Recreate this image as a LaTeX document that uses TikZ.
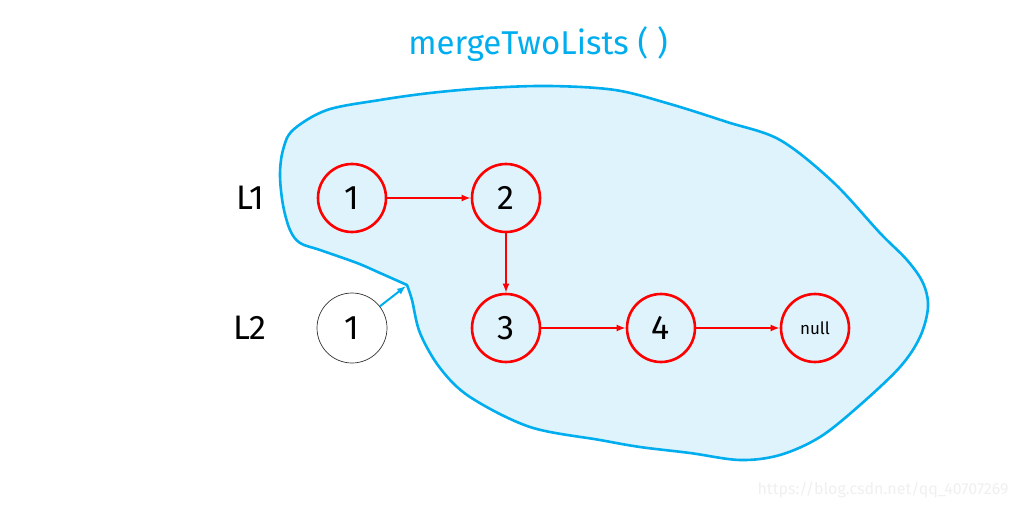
\documentclass[tikz,border=0pt]{standalone}
\usepackage{fontspec}
\setmainfont{Fira Sans}
\usetikzlibrary{arrows.meta}
\definecolor{blobline}{RGB}{0,174,239}
\definecolor{blobfill}{RGB}{223,243,252}
\definecolor{listred}{RGB}{255,0,0}
\definecolor{wm}{RGB}{240,240,240}
\tikzset{
  listnode/.style={circle, draw=listred, line width=2.6pt, minimum size=68pt, inner sep=0pt, font=\fontsize{34}{34}\selectfont},
  plainnode/.style={circle, draw=black!80, line width=0.7pt, minimum size=70pt, inner sep=0pt, font=\fontsize{34}{34}\selectfont},
  listarrow/.style={draw=listred, line width=2pt, -{Latex[length=9pt,width=7pt]}},
  bluearrow/.style={draw=blobline, line width=2pt, -{Latex[length=9pt,width=7pt]}},
  lab/.style={font=\fontsize{34}{34}\selectfont},
}
\begin{document}
\begin{tikzpicture}[x=1pt,y=-1pt]
\useasboundingbox (0,0) rectangle (1020,508);
\fill[white] (0,0) rectangle (1020,508);
% blob
\filldraw[fill=blobfill, draw=blobline, line width=2.6pt, line join=round]
  plot[smooth, tension=0.55] coordinates {
  (407,285) (380,273) (357,263) (320,250) (300,243) (290,230) (283,205) (280,175) (283,150) (293,130) (327,110) (380,100) (430,93) (487,88) (550,86) (615,90) (670,104) (727,122) (780,140) (833,182) (880,233) (907,260) (923,283) (928,307) (920,337) (900,367) (860,405) (820,437) (780,455) (740,460) (690,453) (640,447) (600,440) (530,427) (470,397) (440,368) (420,333) (412,300) (407,285)} -- cycle;
\coordinate (notch) at (406,286);
% title
\node[text=blobline, font=\fontsize{33}{33}\selectfont] (title) at (538,44) {mergeTwoLists ( )};
% labels
\node[lab] (labL1) at (250,198) {L1};
\node[lab] (labL2) at (250,328) {L2};
% nodes
\node[listnode] (a1) at (352,198) {1};
\node[listnode] (a2) at (506,198) {2};
\node[listnode] (a3) at (506,328) {3};
\node[listnode] (a4) at (661,328) {4};
\node[listnode, font=\fontsize{17}{17}\selectfont] (anull) at (815,328) {null};
\node[plainnode] (b1) at (352,328) {1};
% arrows
\draw[listarrow] (a1) -- (a2);
\draw[listarrow] (a2) -- (a3);
\draw[listarrow] (a3) -- (a4);
\draw[listarrow] (a4) -- (anull);
\draw[bluearrow] (b1) -- (notch);
% watermark
\node[text=wm, font=\fontsize{16}{16}\selectfont, anchor=east] (wmark) at (1012,490) {https://blog.csdn.net/qq\_40707269};
\end{tikzpicture}
\end{document}
